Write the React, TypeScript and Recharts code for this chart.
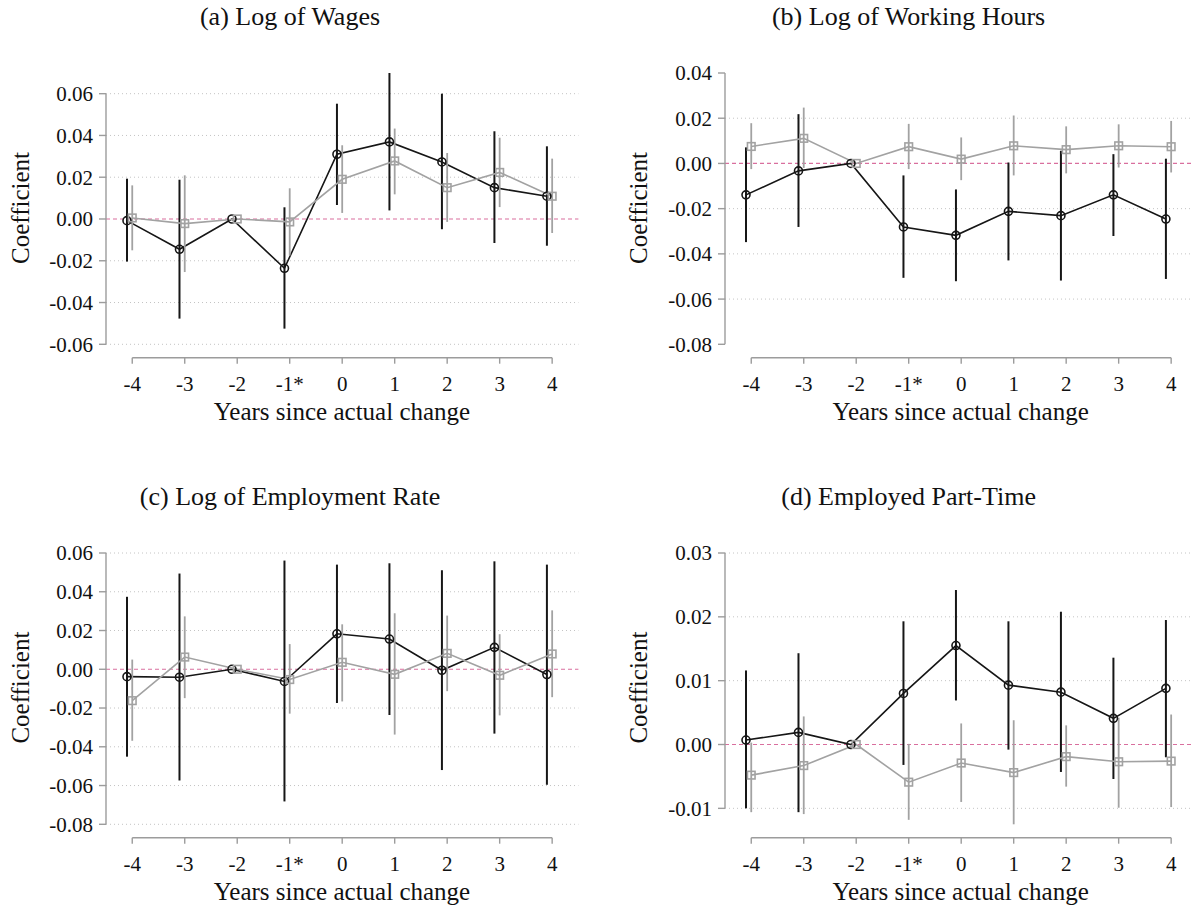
import React from 'react';
import { LineChart, Line, XAxis, YAxis, ErrorBar, ReferenceLine } from 'recharts';

// ---------- data ----------
const years = [-4, -3, -2, -1, 0, 1, 2, 3, 4];
const yearLabels = ['-4', '-3', '-2', '-1*', '0', '1', '2', '3', '4'];

// (a) Log of Wages
const wagesTreat = [-0.0008, -0.0145, 0, -0.0236, 0.031, 0.0369, 0.0273, 0.015, 0.0109];
const wagesTreatLo = [-0.0204, -0.0477, 0, -0.0525, 0.0067, 0.0041, -0.0049, -0.0115, -0.0128];
const wagesTreatHi = [0.0193, 0.0188, 0, 0.0056, 0.0552, 0.0699, 0.06, 0.042, 0.0348];
const wagesCtrl = [0.0005, -0.0022, 0, -0.0014, 0.019, 0.0278, 0.015, 0.0223, 0.0109];
const wagesCtrlLo = [-0.015, -0.0254, 0, -0.0175, 0.0029, 0.0118, -0.0014, 0.0057, -0.0067];
const wagesCtrlHi = [0.0161, 0.0209, 0, 0.0147, 0.0353, 0.0433, 0.0316, 0.0389, 0.0289];
const wagesTicks = [-0.06, -0.04, -0.02, 0, 0.02, 0.04, 0.06];
const wagesGrid = [-0.06, -0.04, -0.02, 0.02, 0.04, 0.06];

// (b) Log of Working Hours
const hoursTreat = [-0.0139, -0.0033, 0, -0.0281, -0.0318, -0.0212, -0.0231, -0.0139, -0.0246];
const hoursTreatLo = [-0.0348, -0.0281, 0, -0.0506, -0.0521, -0.0429, -0.0518, -0.0321, -0.0511];
const hoursTreatHi = [0.0071, 0.0218, 0, -0.0053, -0.0115, 0.0004, 0.0056, 0.0041, 0.0021];
const hoursCtrl = [0.0075, 0.0111, 0, 0.0074, 0.0019, 0.0078, 0.0061, 0.0078, 0.0074];
const hoursCtrlLo = [-0.0025, -0.002, 0, -0.0025, -0.0074, -0.0053, -0.0044, -0.0018, -0.004];
const hoursCtrlHi = [0.0178, 0.0247, 0, 0.0175, 0.0115, 0.0212, 0.0164, 0.0173, 0.0188];
const hoursTicks = [-0.08, -0.06, -0.04, -0.02, 0, 0.02, 0.04];
const hoursGrid = [-0.06, -0.04, -0.02, 0.02];

// (c) Log of Employment Rate
const empTreat = [-0.0038, -0.0041, 0, -0.0063, 0.0183, 0.0156, -0.0005, 0.0113, -0.0027];
const empTreatLo = [-0.0451, -0.0574, 0, -0.0682, -0.0174, -0.0236, -0.052, -0.0332, -0.0596];
const empTreatHi = [0.0374, 0.0494, 0, 0.0561, 0.054, 0.0547, 0.0511, 0.0557, 0.054];
const empCtrl = [-0.0162, 0.0063, 0, -0.0053, 0.0036, -0.0026, 0.0082, -0.0031, 0.0079];
const empCtrlLo = [-0.0369, -0.0149, 0, -0.0229, -0.0166, -0.0337, -0.0113, -0.0238, -0.0144];
const empCtrlHi = [0.005, 0.0273, 0, 0.013, 0.0232, 0.0289, 0.0277, 0.0181, 0.0304];
const empTicks = [-0.08, -0.06, -0.04, -0.02, 0, 0.02, 0.04, 0.06];
const empGrid = [-0.08, -0.06, -0.04, -0.02, 0.02, 0.04, 0.06];

// (d) Employed Part-Time
const ptTreat = [0.0007, 0.0019, 0, 0.008, 0.0155, 0.0093, 0.0082, 0.0041, 0.0088];
const ptTreatLo = [-0.01, -0.0106, 0, -0.0032, 0.0069, -0.0008, -0.0043, -0.0054, -0.002];
const ptTreatHi = [0.0116, 0.0143, 0, 0.0193, 0.0242, 0.0193, 0.0208, 0.0136, 0.0195];
const ptCtrl = [-0.0048, -0.0033, 0, -0.0059, -0.0029, -0.0044, -0.0019, -0.0027, -0.0026];
const ptCtrlLo = [-0.0106, -0.0109, 0, -0.0118, -0.009, -0.0125, -0.0066, -0.0099, -0.0098];
const ptCtrlHi = [0.0003, 0.0044, 0, 0.0001, 0.0033, 0.0038, 0.003, 0.0042, 0.0047];
const ptTicks = [-0.01, 0, 0.01, 0.02, 0.03];
const ptGrid = [-0.01, 0.01, 0.02, 0.03];

const titles = ['(a) Log of Wages', '(b) Log of Working Hours', '(c) Log of Employment Rate', '(d) Employed Part-Time'];
const xTitle = 'Years since actual change';
const yTitle = 'Coefficient';

// ---------- style / layout ----------
const FONT = '"Liberation Serif", "Times New Roman", serif';
const BLACK = '#161616';
const GRAY = '#a2a2a2';
const AXIS = '#9c9c9c';
const GRID = '#c4c4c4';
const PINK = '#d96f9e';
const TREAT_SHIFT = 0.1;

const W = 600;
const H = 440;
const Y_AXIS_W = 106;
const M_RIGHT = 21.6;
const M_TOP = 73;
const X_AXIS_H = 82.3;
const X_PAD = 13.4;
const COL_X = [0, 618.6];
const ROW_Y = [0, 479.6];

const plotW = W - Y_AXIS_W - M_RIGHT;
const unit = plotW / 9;
const TICK_STYLE = { fill: '#111', fontSize: 21, fontFamily: FONT };

function SquareDot(props: any) {
  const { cx, cy, index } = props;
  if (cx == null || cy == null) return <g key={`s-${index}`} />;
  return (
    <rect key={`s-${index}`} x={cx - 3.8} y={cy - 3.8} width={7.6} height={7.6}
      fill="none" stroke={GRAY} strokeWidth={1.6} />
  );
}

function CircleDot(props: any) {
  const { cx, cy, index } = props;
  if (cx == null || cy == null) return <g key={`c-${index}`} />;
  return <circle key={`c-${index}`} cx={cx} cy={cy} r={4} fill="none" stroke={BLACK} strokeWidth={1.6} />;
}

function build(vals: number[], lo: number[], hi: number[], shift: number) {
  return years.map((t, i) => ({
    x: t + shift,
    y: vals[i],
    err: [vals[i] - lo[i], hi[i] - vals[i]],
  }));
}

type PanelProps = {
  treat: number[]; treatLo: number[]; treatHi: number[];
  ctrl: number[]; ctrlLo: number[]; ctrlHi: number[];
  ticks: number[]; grid: number[]; left: number; top: number;
};

function Panel(p: PanelProps) {
  const lo = Math.min(...p.ticks, ...p.treatLo, ...p.ctrlLo);
  const hi = Math.max(...p.ticks, ...p.treatHi, ...p.ctrlHi);
  const treatData = build(p.treat, p.treatLo, p.treatHi, -TREAT_SHIFT);
  const ctrlData = build(p.ctrl, p.ctrlLo, p.ctrlHi, 0);
  const tMin = p.ticks[0];
  const tMax = p.ticks[p.ticks.length - 1];
  return (
    <div style={{ position: 'absolute', left: p.left, top: p.top, width: W, height: H, fontFamily: FONT }}>
      <LineChart width={W} height={H} margin={{ top: M_TOP, right: M_RIGHT, bottom: 0, left: 0 }} style={{ fontFamily: FONT }}>
        <XAxis
          dataKey="x" type="number" domain={[-4.5, 4.5]} allowDataOverflow
          ticks={years} interval={0}
          tickFormatter={(v: number) => yearLabels[years.indexOf(v)] ?? ''}
          height={X_AXIS_H} tickSize={6} tickMargin={12}
          axisLine={{ stroke: AXIS, strokeWidth: 1.4, strokeDasharray: `0 ${unit * 0.5} ${unit * 8} 3000` }}
          tickLine={{ stroke: AXIS, strokeWidth: 1.4 }}
          tick={TICK_STYLE}
        />
        <YAxis
          type="number" domain={[lo, hi]} allowDataOverflow ticks={p.ticks} interval={0}
          width={Y_AXIS_W} padding={{ top: 0, bottom: X_PAD }}
          tickSize={7} tickMargin={6} axisLine={false}
          tickLine={{ stroke: AXIS, strokeWidth: 1.4 }}
          tickFormatter={(v: number) => v.toFixed(2)}
          tick={TICK_STYLE}
        />
        {p.grid.map((v) => (
          <ReferenceLine key={`g${v}`} y={v} stroke={GRID} strokeWidth={1} strokeDasharray="1 3" />
        ))}
        <ReferenceLine y={0} stroke={PINK} strokeWidth={1.2} strokeDasharray="4 3" />
        <ReferenceLine segment={[{ x: -4.5, y: tMin }, { x: -4.5, y: tMax }]} stroke={AXIS} strokeWidth={1.4} />
        <Line data={treatData} dataKey="y" type="linear" stroke={BLACK} strokeWidth={1.6}
          dot={CircleDot} activeDot={false} isAnimationActive={false}>
          <ErrorBar dataKey="err" direction="y" width={0} stroke={BLACK} strokeWidth={2} />
        </Line>
        <Line data={ctrlData} dataKey="y" type="linear" stroke={GRAY} strokeWidth={1.6}
          dot={SquareDot} activeDot={false} isAnimationActive={false}>
          <ErrorBar dataKey="err" direction="y" width={0} stroke={GRAY} strokeWidth={1.8} />
        </Line>
      </LineChart>
    </div>
  );
}

export default function App() {
  const panels = [
    { treat: wagesTreat, treatLo: wagesTreatLo, treatHi: wagesTreatHi, ctrl: wagesCtrl, ctrlLo: wagesCtrlLo, ctrlHi: wagesCtrlHi, ticks: wagesTicks, grid: wagesGrid },
    { treat: hoursTreat, treatLo: hoursTreatLo, treatHi: hoursTreatHi, ctrl: hoursCtrl, ctrlLo: hoursCtrlLo, ctrlHi: hoursCtrlHi, ticks: hoursTicks, grid: hoursGrid },
    { treat: empTreat, treatLo: empTreatLo, treatHi: empTreatHi, ctrl: empCtrl, ctrlLo: empCtrlLo, ctrlHi: empCtrlHi, ticks: empTicks, grid: empGrid },
    { treat: ptTreat, treatLo: ptTreatLo, treatHi: ptTreatHi, ctrl: ptCtrl, ctrlLo: ptCtrlLo, ctrlHi: ptCtrlHi, ticks: ptTicks, grid: ptGrid },
  ];
  return (
    <div style={{ position: 'absolute', left: 0, top: 0, width: 1192, height: 911, overflow: 'hidden', background: '#fff', fontFamily: FONT }}>
      {panels.map((p, i) => (
        <Panel key={i} {...p} left={COL_X[i % 2]} top={ROW_Y[Math.floor(i / 2)]} />
      ))}
      <svg width={1192} height={911} style={{ position: 'absolute', left: 0, top: 0, pointerEvents: 'none' }}>
        {titles.map((t, i) => {
          const cx = COL_X[i % 2];
          const cy = ROW_Y[Math.floor(i / 2)];
          return (
            <g key={t} fontFamily={FONT} fill="#111">
              <text x={cx + 290} y={cy + 25} textAnchor="middle" fontSize={26}>{t}</text>
              <text x={cx + 342} y={cy + 420} textAnchor="middle" fontSize={25}>{xTitle}</text>
              <text transform={`translate(${cx + 28.5}, ${cy + 208}) rotate(-90)`} textAnchor="middle" fontSize={25}>{yTitle}</text>
            </g>
          );
        })}
      </svg>
    </div>
  );
}
